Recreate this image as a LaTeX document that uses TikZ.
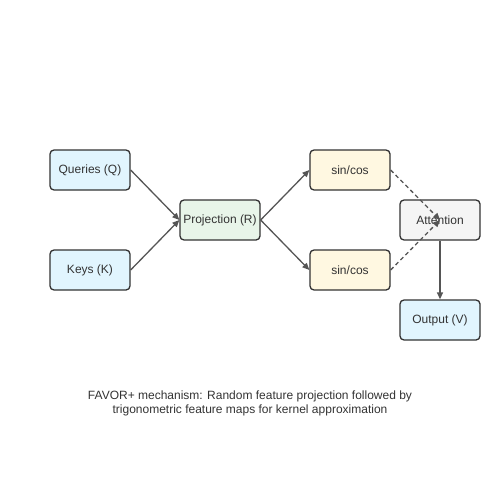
\documentclass[tikz,border=0pt]{standalone}
\usepackage{fontspec}
\setmainfont{Liberation Sans}
\usetikzlibrary{arrows.meta}
\definecolor{bordc}{HTML}{333333}
\definecolor{arrc}{HTML}{555555}
\definecolor{blu}{HTML}{E1F5FE}
\definecolor{grn}{HTML}{E8F5E9}
\definecolor{yel}{HTML}{FFF8E1}
\definecolor{gry}{HTML}{F5F5F5}
\definecolor{txt}{HTML}{333333}
\begin{document}
\begin{tikzpicture}[x=1pt,y=-1pt,
  box/.style={draw=bordc,line width=1.3pt,rounded corners=4pt,minimum width=80pt,minimum height=40pt,inner sep=0pt,font=\fontsize{12}{14}\selectfont,text=txt},
  conn/.style={draw=arrc,line width=1.3pt,-{Triangle[length=7pt,width=6pt]}},
  dconn/.style={conn,dashed,dash pattern=on 4pt off 3pt}]
\useasboundingbox (0,0) rectangle (500,500);
\node[box,fill=blu] (q) at (90,170) {Queries (Q)};
\node[box,fill=blu] (k) at (90,270) {Keys (K)};
\node[box,fill=grn] (p) at (220,220) {Projection (R)};
\node[box,fill=yel] (s1) at (350,170) {sin/cos};
\node[box,fill=yel] (s2) at (350,270) {sin/cos};
\node[box,fill=gry] (a) at (440,220) {Attention};
\node[box,fill=blu] (o) at (440,320) {Output (V)};
\draw[conn] (q.east) -- (p.west);
\draw[conn] (k.east) -- (p.west);
\draw[conn] (p.east) -- (s1.west);
\draw[conn] (p.east) -- (s2.west);
\draw[dconn] (s1.east) -- (a.center);
\draw[dconn] (s2.east) -- (a.center);
\draw[conn] (a.south) -- (o.north);
\node[font=\fontsize{12}{14}\selectfont,text=txt,align=center] (cap) at (250,403) {FAVOR+ mechanism: Random feature projection followed by\\trigonometric feature maps for kernel approximation};
\end{tikzpicture}
\end{document}
